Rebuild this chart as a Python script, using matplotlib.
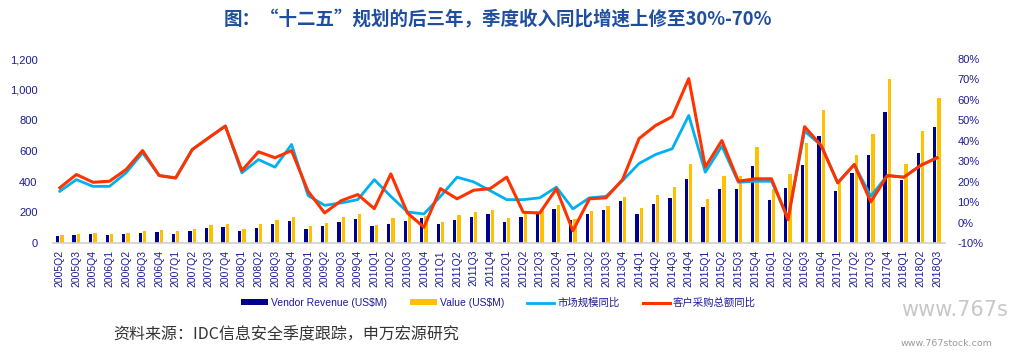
import numpy as np
import matplotlib
matplotlib.use('Agg')
import matplotlib.pyplot as plt
from matplotlib.ticker import FuncFormatter

plt.rcParams['font.family'] = ['Liberation Sans', 'Noto Sans CJK SC', 'DejaVu Sans']

quarters = ['2005Q2', '2005Q3', '2005Q4',
            '2006Q1', '2006Q2', '2006Q3', '2006Q4',
            '2007Q1', '2007Q2', '2007Q3', '2007Q4',
            '2008Q1', '2008Q2', '2008Q3', '2008Q4',
            '2009Q1', '2009Q2', '2009Q3', '2009Q4',
            '2010Q1', '2010Q2', '2010Q3', '2010Q4',
            '2011Q1', '2011Q2', '2011Q3', '2011Q4',
            '2012Q1', '2012Q2', '2012Q3', '2012Q4',
            '2013Q1', '2013Q2', '2013Q3', '2013Q4',
            '2014Q1', '2014Q2', '2014Q3', '2014Q4',
            '2015Q1', '2015Q2', '2015Q3', '2015Q4',
            '2016Q1', '2016Q2', '2016Q3', '2016Q4',
            '2017Q1', '2017Q2', '2017Q3', '2017Q4',
            '2018Q1', '2018Q2', '2018Q3']

# US$M
vendor_revenue = [44, 50, 57,
                  50, 57, 68, 70,
                  61, 76, 98, 105,
                  78, 101, 124, 144,
                  89, 111, 135, 159,
                  109, 124, 142, 166,
                  124, 153, 170, 192,
                  135, 170, 192, 222,
                  148, 190, 216, 272,
                  187, 255, 294, 416,
                  235, 351, 351, 503,
                  280, 356, 508, 697,
                  338, 457, 573, 853,
                  414, 584, 754]

value = [50, 61, 68,
         61, 68, 78, 83,
         76, 92, 115, 124,
         93, 127, 150, 168,
         109, 131, 168, 190,
         115, 161, 187, 176,
         137, 181, 202, 213,
         166, 196, 224, 248,
         159, 211, 242, 301,
         227, 311, 366, 517,
         289, 440, 440, 627,
         352, 448, 650, 866,
         409, 573, 714, 1067,
         514, 731, 943]

# YoY, %
market_yoy = [15.3, 21.0, 17.7,
              17.7, 24.3, 34.1, 23.0,
              21.8, 35.7, 41.5, 47.2,
              24.3, 30.8, 27.1, 38.2,
              13.2, 8.4, 9.6, 11.2,
              21.0, 12.8, 5.2, 4.2,
              12.8, 22.2, 19.9, 15.6,
              11.2, 11.2, 12.1, 17.3,
              6.7, 12.1, 12.8, 20.5,
              28.9, 33.3, 36.1, 52.4,
              24.6, 37.4, 19.7, 20.2,
              20.2, 2.2, 44.7, 37.7,
              19.4, 28.4, 12.9, 23.0,
              22.2, 27.9, 31.7]

purchase_yoy = [17.0, 23.5, 19.7,
                20.2, 25.9, 35.2, 23.0,
                21.8, 35.7, 41.5, 47.2,
                25.4, 34.6, 31.7, 35.2,
                15.3, 4.7, 10.7, 13.7,
                6.8, 23.8, 4.7, -2.3,
                16.6, 11.6, 15.8, 16.6,
                22.2, 5.0, 4.7, 16.5,
                -4.0, 11.6, 12.1, 21.0,
                41.1, 47.5, 51.8, 70.4,
                27.1, 40.1, 20.2, 21.4,
                21.4, 1.4, 46.9, 37.7,
                19.4, 28.4, 10.1, 23.0,
                22.2, 27.9, 31.7]

navy = '#00008f'
gold = '#ffc000'
cyan = '#00b0f0'
red = '#ff3300'
tick_col = '#1c1c96'

x = np.arange(len(quarters))

fig = plt.figure(figsize=(10.17, 3.54), dpi=100)
ax = fig.add_axes([0.052, 0.3136, 0.877, 0.5197])

w = 0.2
b1 = ax.bar(x - 0.135, vendor_revenue, width=w, color=navy, label='Vendor Revenue (US$M)', zorder=2)
b2 = ax.bar(x + 0.125, value, width=w, color=gold, label='Value (US$M)', zorder=2)

ax.set_xlim(-0.42, 53.47)
ax.set_ylim(0, 1200)
ax.set_yticks(range(0, 1201, 200))
ax.yaxis.set_major_formatter(FuncFormatter(lambda v, p: f'{int(v):,}'))
ax.set_xticks(x)
ax.set_xticklabels(quarters, rotation=90, fontsize=7.5, color=tick_col)
ax.tick_params(axis='x', length=0, pad=5)
ax.tick_params(axis='y', length=0, pad=11, labelsize=8, colors=tick_col)

for s in ['top', 'left', 'right']:
    ax.spines[s].set_visible(False)
ax.spines['bottom'].set_color('#d0d0d0')
ax.spines['bottom'].set_linewidth(1.2)

ax2 = ax.twinx()
l1, = ax2.plot(x, market_yoy, color=cyan, lw=2.0, label='市场规模同比', zorder=3)
l2, = ax2.plot(x, purchase_yoy, color=red, lw=2.2, label='客户采购总额同比', zorder=4)
ax2.set_ylim(-10, 80)
ax2.set_yticks(range(-10, 81, 10))
ax2.yaxis.set_major_formatter(FuncFormatter(lambda v, p: f'{int(v)}%'))
ax2.tick_params(axis='y', length=0, pad=9, labelsize=8, colors=tick_col)
for s in ['top', 'left', 'right', 'bottom']:
    ax2.spines[s].set_visible(False)

leg = fig.legend(handles=[b1, b2, l1, l2], loc='center', bbox_to_anchor=(0.49, 0.144),
                 ncol=4, frameon=False, fontsize=7.5, handlelength=2.6,
                 handleheight=0.5, columnspacing=2.2, handletextpad=0.3)
for t in leg.get_texts():
    t.set_color(tick_col)

fig.text(0.49, 0.943, '图：“十二五”规划的后三年，季度收入同比增速上修至30%-70%',
         ha='center', va='center', fontsize=13.3, fontweight='bold', color='#1f4e9e',
         family=['Noto Sans CJK SC', 'DejaVu Sans'])

fig.text(0.111, 0.053, '资料来源：IDC信息安全季度跟踪，申万宏源研究', ha='left', va='center',
         fontsize=11.5, color='#333333', family=['Noto Sans CJK SC', 'DejaVu Sans'])

# watermarks
fig.text(0.886, 0.123, 'www.767s', ha='left', va='center', fontsize=15,
         color='#c8c8c8', family='DejaVu Sans')
fig.text(0.886, 0.03, 'www.767stock.com', ha='left', va='center', fontsize=6.8,
         color='#9a9a9a', family='DejaVu Sans')

fig.savefig('out.png', dpi=100)
